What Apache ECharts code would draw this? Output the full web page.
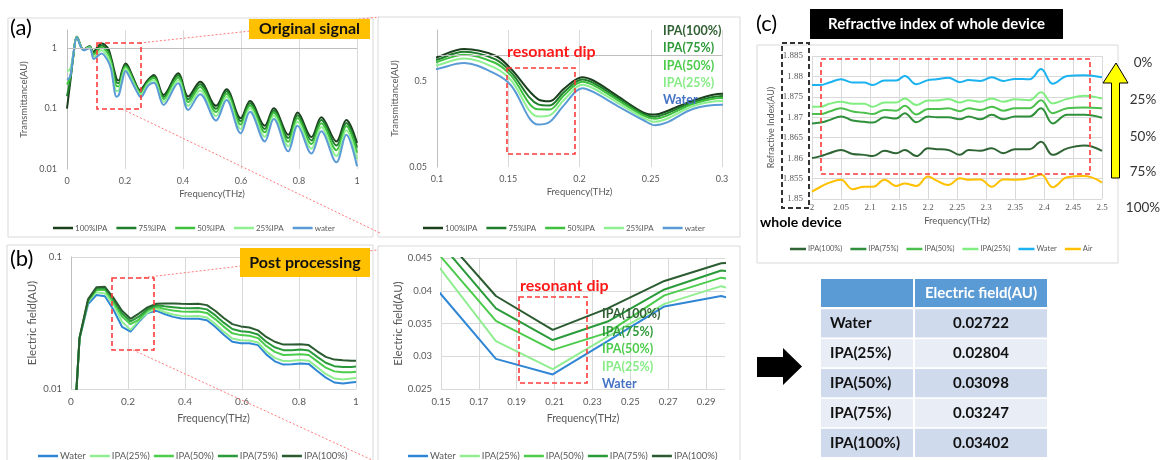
<!DOCTYPE html>
<html>
<head>
<meta charset="utf-8">
<script src="https://cdn.jsdelivr.net/npm/echarts@6/dist/echarts.min.js"></script>
<style>
html, body { margin: 0; padding: 0; background: #fff; }
#main { width: 1165px; height: 460px; }
</style>
</head>
<body>
<div id="main"></div>
<script>
// (a) original signal: transmittance vs frequency (THz)
var freqA = [0, 0.011, 0.022, 0.034, 0.057, 0.078, 0.092, 0.1, 0.119, 0.141, 0.152, 0.171, 0.179, 0.189, 0.202, 0.21, 0.226, 0.245, 0.253, 0.261, 0.28, 0.3, 0.333, 0.383, 0.418, 0.459, 0.514, 0.55, 0.599, 0.631, 0.682, 0.713, 0.763, 0.795, 0.843, 0.877, 0.929, 0.963, 1.0];
var ipa100A = [0.1, 0.27, 0.75, 1.55, 0.95, 1.08, 0.86, 0.96, 1.2, 1.0, 0.70, 0.309, 0.293, 0.41, 0.56, 0.51, 0.344, 0.216, 0.205, 0.224, 0.301, 0.36, 0.168, 0.383, 0.158, 0.279, 0.111, 0.209, 0.069, 0.134, 0.052, 0.101, 0.0369, 0.086, 0.0337, 0.072, 0.0286, 0.065, 0.027];
var ipa75A = [0.16, 0.3, 0.76, 1.54, 0.95, 1.07, 0.815, 0.9, 1.11, 0.907, 0.64, 0.27, 0.262, 0.375, 0.528, 0.479, 0.326, 0.207, 0.194, 0.211, 0.288, 0.339, 0.156, 0.355, 0.143, 0.254, 0.0993, 0.193, 0.0616, 0.123, 0.0461, 0.093, 0.0325, 0.0778, 0.0297, 0.0647, 0.0244, 0.058, 0.0226];
var ipa50A = [0.25, 0.33, 0.78, 1.53, 0.94, 1.05, 0.773, 0.846, 1.03, 0.823, 0.586, 0.236, 0.235, 0.343, 0.498, 0.451, 0.309, 0.199, 0.183, 0.198, 0.275, 0.32, 0.143, 0.327, 0.128, 0.228, 0.0878, 0.176, 0.0543, 0.113, 0.0405, 0.085, 0.0283, 0.0696, 0.0259, 0.0574, 0.0205, 0.0513, 0.0186];
var ipa25A = [0.42, 0.45, 0.82, 1.51, 0.93, 1.03, 0.718, 0.774, 0.926, 0.717, 0.517, 0.195, 0.201, 0.303, 0.459, 0.414, 0.287, 0.188, 0.169, 0.182, 0.258, 0.295, 0.129, 0.294, 0.111, 0.2, 0.0751, 0.157, 0.0462, 0.101, 0.0342, 0.0758, 0.0237, 0.0605, 0.0217, 0.0494, 0.0164, 0.0438, 0.0145];
var waterA = [0.3, 0.34, 0.8, 1.5, 0.92, 1.0, 0.66, 0.70, 0.82, 0.614, 0.449, 0.157, 0.168, 0.263, 0.418, 0.375, 0.263, 0.176, 0.154, 0.165, 0.24, 0.268, 0.115, 0.262, 0.095, 0.173, 0.0635, 0.139, 0.039, 0.089, 0.0286, 0.067, 0.0196, 0.052, 0.018, 0.042, 0.0129, 0.037, 0.0111];

// (b) post processing: electric field vs frequency (THz)
var freqB = [0, 0.03, 0.06, 0.089, 0.119, 0.149, 0.179, 0.209, 0.238, 0.268, 0.298, 0.328, 0.358, 0.387, 0.417, 0.447, 0.477, 0.507, 0.536, 0.566, 0.596, 0.626, 0.656, 0.685, 0.715, 0.745, 0.775, 0.805, 0.834, 0.864, 0.894, 0.924, 0.954, 0.983, 1.0];
var waterB = [0.002, 0.024, 0.044, 0.0515, 0.0504, 0.0398, 0.0296, 0.02722, 0.0323, 0.0376, 0.0392, 0.037, 0.0352, 0.0342, 0.034, 0.0341, 0.0332, 0.0295, 0.0258, 0.0228, 0.0222, 0.0222, 0.0215, 0.0183, 0.0162, 0.0153, 0.0154, 0.0156, 0.0155, 0.0137, 0.0122, 0.0112, 0.011, 0.0112, 0.0113];
var ipa25B = [0.002, 0.0242, 0.046, 0.054, 0.053, 0.0436, 0.0323, 0.02804, 0.033, 0.038, 0.0407, 0.0383, 0.0367, 0.0358, 0.0356, 0.0357, 0.0348, 0.031, 0.0272, 0.0241, 0.0234, 0.0233, 0.0225, 0.0193, 0.0172, 0.0163, 0.0164, 0.0166, 0.0164, 0.0146, 0.013, 0.012, 0.0118, 0.012, 0.0121];
var ipa50B = [0.002, 0.0243, 0.0465, 0.0562, 0.0565, 0.0455, 0.0354, 0.03098, 0.0336, 0.0393, 0.042, 0.0404, 0.0394, 0.0387, 0.0385, 0.0386, 0.0377, 0.0337, 0.0297, 0.0264, 0.0256, 0.0253, 0.0243, 0.0212, 0.0191, 0.0181, 0.0182, 0.0183, 0.0181, 0.0162, 0.0145, 0.0136, 0.0134, 0.0134, 0.0135];
var ipa75B = [0.002, 0.0244, 0.047, 0.0575, 0.058, 0.0475, 0.0373, 0.03247, 0.0353, 0.0402, 0.0431, 0.0423, 0.0417, 0.0411, 0.0409, 0.0411, 0.0401, 0.0361, 0.0318, 0.0285, 0.0274, 0.027, 0.0259, 0.0228, 0.0207, 0.0197, 0.0197, 0.0199, 0.0196, 0.0175, 0.0158, 0.0149, 0.0147, 0.0147, 0.0148];
var ipa100B = [0.002, 0.0245, 0.048, 0.059, 0.0595, 0.049, 0.0392, 0.03402, 0.0373, 0.0415, 0.0442, 0.0445, 0.0445, 0.0442, 0.044, 0.0442, 0.0432, 0.039, 0.0345, 0.031, 0.0298, 0.0292, 0.0278, 0.0248, 0.0228, 0.0217, 0.0217, 0.0218, 0.0215, 0.0193, 0.0175, 0.0167, 0.0165, 0.0164, 0.0164];

// (c) refractive index of whole device, 2 - 2.5 THz
var freqC = [2.0, 2.015, 2.03, 2.05, 2.07, 2.09, 2.105, 2.125, 2.145, 2.16, 2.18, 2.2, 2.215, 2.235, 2.255, 2.27, 2.29, 2.31, 2.33, 2.35, 2.375, 2.395, 2.415, 2.44, 2.47, 2.5];
var ipa100C = [1.86, 1.8605, 1.8612, 1.862, 1.861, 1.8608, 1.8605, 1.8618, 1.8612, 1.862, 1.8605, 1.8624, 1.8622, 1.862, 1.8608, 1.862, 1.8618, 1.8624, 1.8612, 1.8622, 1.8622, 1.864, 1.8608, 1.8624, 1.8631, 1.8618];
var ipa75C = [1.8685, 1.8687, 1.8693, 1.8702, 1.8692, 1.8689, 1.8687, 1.87, 1.8697, 1.871, 1.8688, 1.8702, 1.87, 1.87, 1.8695, 1.8702, 1.8695, 1.8706, 1.8695, 1.8702, 1.8702, 1.8722, 1.8685, 1.8706, 1.8706, 1.8699];
var ipa50C = [1.8708, 1.8708, 1.8714, 1.8722, 1.8714, 1.8711, 1.8708, 1.8718, 1.8716, 1.8728, 1.8707, 1.872, 1.872, 1.8722, 1.8715, 1.8722, 1.8718, 1.8726, 1.8716, 1.8722, 1.8722, 1.8742, 1.871, 1.8722, 1.8724, 1.8722];
var ipa25C = [1.8726, 1.8726, 1.8733, 1.8738, 1.8733, 1.8733, 1.8726, 1.8736, 1.8736, 1.8746, 1.873, 1.8741, 1.8741, 1.8745, 1.8736, 1.8742, 1.8738, 1.8746, 1.8738, 1.8744, 1.8742, 1.8761, 1.8734, 1.8745, 1.8753, 1.8746];
var waterC = [1.8779, 1.8779, 1.8785, 1.8793, 1.8785, 1.8785, 1.8779, 1.879, 1.879, 1.8801, 1.8781, 1.8791, 1.8793, 1.8797, 1.8786, 1.8791, 1.8789, 1.8798, 1.8789, 1.8794, 1.8793, 1.8818, 1.8782, 1.8801, 1.8803, 1.8798];
var airC = [1.8518, 1.853, 1.854, 1.8547, 1.8524, 1.853, 1.853, 1.8547, 1.8532, 1.8538, 1.8532, 1.8555, 1.8545, 1.8534, 1.8551, 1.8547, 1.8548, 1.853, 1.8548, 1.8547, 1.8551, 1.856, 1.8529, 1.8553, 1.8556, 1.854];

// table at the resonant dip
var tableNames = ['Water', 'IPA(25%)', 'IPA(50%)', 'IPA(75%)', 'IPA(100%)'];
var tableValues = ['0.02722', '0.02804', '0.03098', '0.03247', '0.03402'];

var aNames = ['100%IPA', '75%IPA', '50%IPA', '25%IPA', 'water'];
var bNames = ['Water', 'IPA(25%)', 'IPA(50%)', 'IPA(75%)', 'IPA(100%)'];
var cNames = ['IPA(100%)', 'IPA(75%)', 'IPA(50%)', 'IPA(25%)', 'Water', 'Air'];
var sideLabels = ['IPA(100%)', 'IPA(75%)', 'IPA(50%)', 'IPA(25%)', 'Water'];
var percentLabels = ['0%', '25%', '50%', '75%', '100%'];

var F = 'Lato, "Open Sans", sans-serif';
var GRAY = '#595959';
var GRIDC = '#d9d9d9';

var aColors = ['#1c3f1e', '#1f7d2b', '#3fc03f', '#8ef08e', '#5b9bd5'];
var bColors = ['#2f86d4', '#90ee90', '#4ccc4c', '#2a9a3a', '#2b5b30'];
var cColors = ['#2f6534', '#2f8f3a', '#4cc04c', '#82ee82', '#1ab2f0', '#ffc000'];
var labelColors = ['#2f5f32', '#2f9a3a', '#4ccc4c', '#86ec86', '#4472c4'];

function pairs(xs, ys) {
	return xs.map(function (x, i) { return [x, ys[i]]; });
}

function lineSeries(name, color, xs, ys, idx, smooth) {
	return {
		name: name, type: 'line', xAxisIndex: idx, yAxisIndex: idx,
		data: pairs(xs, ys), symbol: 'none', smooth: smooth,
		lineStyle: { color: color, width: 2 }, itemStyle: { color: color }
	};
}

function xAx(idx, min, max, interval, fs, nameGap, margin) {
	return {
		gridIndex: idx, type: 'value', min: min, max: max, interval: interval,
		name: 'Frequency(THz)', nameLocation: 'middle', nameGap: nameGap,
		nameTextStyle: { color: GRAY, fontSize: fs + 0.5, fontFamily: F },
		axisLine: { show: false }, axisTick: { show: false },
		axisLabel: { color: GRAY, fontSize: fs, fontFamily: F, margin: margin },
		splitLine: { show: true, lineStyle: { color: GRIDC, width: 1 } }
	};
}

var series = [];
var aVals = [ipa100A, ipa75A, ipa50A, ipa25A, waterA];
for (var i = 0; i < 5; i++) {
	series.push(lineSeries(aNames[i], aColors[i], freqA, aVals[i], 0, 0.35));
	series.push(lineSeries(aNames[i], aColors[i], freqA, aVals[i], 1, 0.35));
}
var cVals = [ipa100C, ipa75C, ipa50C, ipa25C, waterC, airC];
for (var i = 0; i < 6; i++) {
	series.push(lineSeries('c:' + cNames[i], cColors[i], freqC, cVals[i], 2, 0.4));
}
var bVals = [waterB, ipa25B, ipa50B, ipa75B, ipa100B];
for (var i = 0; i < 5; i++) {
	series.push(lineSeries(bNames[i], bColors[i], freqB, bVals[i], 3, false));
	series.push(lineSeries(bNames[i], bColors[i], freqB, bVals[i], 4, false));
}

// horizontal axis of the log charts crosses at 1
series[8].markLine = {
	silent: true, symbol: ['none', 'none'], label: { show: false },
	lineStyle: { color: '#bfbfbf', type: 'solid', width: 1 },
	data: [{ yAxis: 1 }]
};
series[9].markLine = {
	silent: true, symbol: ['none', 'none'], label: { show: false },
	lineStyle: { color: '#bfbfbf', type: 'solid', width: 1 },
	data: [
		{ yAxis: 1 },
		{ yAxis: 0.5, lineStyle: { color: 'rgba(0,0,0,0)' },
		  label: { show: true, position: 'start', formatter: '0.5', color: GRAY, fontSize: 9, fontFamily: F, distance: 10 } }
	]
};

function isTick(v, list) {
	return list.some(function (t) { return Math.abs(v - t) / t < 1e-6; });
}

function legend(data, left, top, fs, gap, iw, extra) {
	var l = {
		data: data, left: left, top: top, orient: 'horizontal', selectedMode: false,
		icon: 'rect', itemWidth: iw, itemHeight: 2.5, itemGap: gap,
		textStyle: { color: GRAY, fontFamily: F, fontSize: fs, padding: [0, 0, 0, -3] }
	};
	return Object.assign(l, extra || {});
}

var gfx = [];
function rect(x, y, w, h, style, z) {
	gfx.push({ type: 'rect', shape: { x: x, y: y, width: w, height: h }, style: style, z: z || 50, silent: true });
}
function text(t, x, y, font, fill, align, z) {
	gfx.push({ type: 'text', x: x, y: y, z: z || 60, silent: true,
		style: { text: t, font: font, fill: fill, textAlign: align || 'left', textVerticalAlign: 'middle' } });
}
function seg(x1, y1, x2, y2, style, z) {
	gfx.push({ type: 'line', shape: { x1: x1, y1: y1, x2: x2, y2: y2 }, style: style, z: z || 40, silent: true });
}

var frame = { fill: 'rgba(0,0,0,0)', stroke: '#d9d9d9', lineWidth: 1 };
rect(8, 18, 365, 219, frame, 1);
rect(378, 17, 362, 220, frame, 1);
rect(7, 245, 366, 220, frame, 1);
rect(378, 246, 362, 220, frame, 1);
rect(757, 45, 361, 218, frame, 1);

// zoom connectors
var dot = { stroke: '#ff7a7a', lineWidth: 1, lineDash: [2, 2] };
seg(140, 43, 379, 17, dot);
seg(122, 109, 380, 233, dot);
seg(140, 278, 377, 250, dot);
seg(133, 350, 372, 460, dot);

var red = { fill: 'rgba(0,0,0,0)', stroke: '#ff3b3b', lineWidth: 1.6, lineDash: [5, 3] };
rect(97, 43, 44, 66, red, 55);
rect(507, 68, 68, 86, red, 55);
rect(112, 278, 42, 72, red, 55);
rect(519, 297, 68, 86, red, 55);
rect(821, 59, 269, 115, red, 55);
rect(782, 43, 27, 165, { fill: 'rgba(0,0,0,0)', stroke: '#333', lineWidth: 2, lineDash: [5, 3] }, 55);

// panel tags and headings
text('(a)', 10, 28, '22px ' + F, '#000');
text('(b)', 10, 259, '22px ' + F, '#000');
text('(c)', 756, 24, '22px ' + F, '#000');
rect(249, 19, 121, 20, { fill: '#ffc000' }, 58);
text('Original signal', 309.5, 29, 'bold 16px ' + F, '#111', 'center');
rect(240, 248, 130, 29, { fill: '#ffc000' }, 58);
text('Post processing', 305, 262.5, 'bold 16px ' + F, '#111', 'center');
rect(810, 9, 253, 30, { fill: '#000' }, 58);
text('Refractive index of whole device', 936.5, 24, 'bold 15px ' + F, '#fff', 'center');
text('whole device', 760, 222, 'bold 14px ' + F, '#000');

text('resonant dip', 507, 51.5, 'bold 16px ' + F, '#ff1a1a');
text('resonant dip', 520, 286, 'bold 16px ' + F, '#ff1a1a');
var aLabY = [31, 48, 66, 83, 100];
var bLabY = [314, 331.5, 349, 367, 384];
for (var i = 0; i < 5; i++) {
	text(sideLabels[i], 663, aLabY[i], 'bold 12.5px ' + F, labelColors[i]);
	text(sideLabels[i], 602, bLabY[i], 'bold 12.5px ' + F, labelColors[i]);
}

// concentration scale with the yellow arrow
var pY = [63, 100, 137, 172, 208];
for (var i = 0; i < 5; i++) {
	text(percentLabels[i], 1143, pY[i], '13.5px ' + F, '#333', 'center');
}
gfx.push({ type: 'polygon', z: 58, silent: true,
	shape: { points: [[1116, 63], [1128, 83], [1119.5, 83], [1119.5, 178], [1111.5, 178], [1111.5, 83], [1103, 83]] },
	style: { fill: '#ffff00', stroke: '#000', lineWidth: 1 } });

// black arrow and table
gfx.push({ type: 'polygon', z: 58, silent: true,
	shape: { points: [[757, 357], [783, 357], [783, 348], [802, 366.5], [783, 385], [783, 377], [757, 377]] },
	style: { fill: '#000' } });
rect(821, 279, 92, 28, { fill: '#5b9bd5' }, 58);
rect(915, 279, 132, 28, { fill: '#5b9bd5' }, 58);
text('Electric field(AU)', 981, 293, 'bold 15px ' + F, '#fff', 'center');
for (var i = 0; i < tableNames.length; i++) {
	var ry = 309.3 + i * 29.85;
	var fill = i % 2 === 0 ? '#cfdaec' : '#e9eef6';
	rect(821, ry, 92, 28.2, { fill: fill }, 58);
	rect(915, ry, 132, 28.2, { fill: fill }, 58);
	text(tableNames[i], 830, ry + 14.3, 'bold 15px ' + F, '#111');
	text(tableValues[i], 981, ry + 14.3, 'bold 15px ' + F, '#111', 'center');
}

var option = {
	animation: false,
	backgroundColor: '#fff',
	grid: [
		{ left: 67, top: 30, width: 290, height: 139 },
		{ left: 437, top: 30, width: 285, height: 137 },
		{ left: 812, top: 56, width: 290, height: 143 },
		{ left: 71, top: 257, width: 285, height: 132 },
		{ left: 441, top: 258, width: 284, height: 131 }
	],
	xAxis: [
		xAx(0, 0, 1, 0.2, 9, 20, 8),
		xAx(1, 0.1, 0.3, 0.05, 9, 20, 8),
		Object.assign(xAx(2, 2, 2.5, 0.05, 9, 17, 4), {
			axisLabel: { color: GRAY, fontSize: 9, fontFamily: '"Liberation Serif", serif', margin: 4 }
		}),
		xAx(3, 0, 1, 0.2, 10, 24, 8),
		Object.assign(xAx(4, 0.15, 0.3, 0.01, 10, 24, 8), {
			axisLabel: {
				color: GRAY, fontSize: 9.5, fontFamily: F, margin: 8,
				formatter: function (v) { return Math.round(v * 100) % 2 === 1 ? v.toFixed(2) : ''; }
			},
			splitLine: { show: true, lineStyle: { color: [GRIDC, 'rgba(0,0,0,0)'], width: 1 } }
		})
	],
	yAxis: [
		{
			gridIndex: 0, type: 'log', logBase: 10, min: 0.01, max: 2,
			name: 'Transmittance(AU)', nameLocation: 'middle', nameGap: 38,
			nameTextStyle: { color: GRAY, fontSize: 9.5, fontFamily: F },
			axisLine: { show: true, lineStyle: { color: '#bfbfbf' } }, axisTick: { show: false },
			splitLine: { show: false },
			axisLabel: { color: GRAY, fontSize: 9, fontFamily: F, margin: 10,
				formatter: function (v) { return isTick(v, [0.01, 0.1, 1]) ? String(+v.toPrecision(3)) : ''; } }
		},
		{
			gridIndex: 1, type: 'log', logBase: 10, min: 0.05, max: 2,
			name: 'Transmittance(AU)', nameLocation: 'middle', nameGap: 37,
			nameTextStyle: { color: GRAY, fontSize: 9.5, fontFamily: F },
			axisLine: { show: true, lineStyle: { color: '#bfbfbf' } }, axisTick: { show: false },
			splitLine: { show: false },
			axisLabel: { color: GRAY, fontSize: 9, fontFamily: F, margin: 10,
				formatter: function (v) { return isTick(v, [0.05]) ? '0.05' : ''; } }
		},
		{
			gridIndex: 2, type: 'value', min: 1.85, max: 1.885, interval: 0.005,
			name: 'Refractive Index(AU)', nameLocation: 'middle', nameGap: 36,
			nameTextStyle: { color: GRAY, fontSize: 9, fontFamily: F },
			axisLine: { show: false }, axisTick: { show: false },
			splitLine: { show: true, lineStyle: { color: GRIDC } },
			axisLabel: { color: GRAY, fontSize: 9, fontFamily: '"Liberation Serif", serif', margin: 9 }
		},
		{
			gridIndex: 3, type: 'log', logBase: 10, min: 0.01, max: 0.1,
			name: 'Electric field(AU)', nameLocation: 'middle', nameGap: 33,
			nameTextStyle: { color: GRAY, fontSize: 11.5, fontFamily: F },
			axisLine: { show: true, lineStyle: { color: '#bfbfbf' } }, axisTick: { show: false },
			splitLine: { show: true, lineStyle: { color: GRIDC } },
			axisLabel: { color: GRAY, fontSize: 9.5, fontFamily: F, margin: 9 }
		},
		{
			gridIndex: 4, type: 'value', min: 0.025, max: 0.045, interval: 0.005,
			name: 'Electric field(AU)', nameLocation: 'middle', nameGap: 33,
			nameTextStyle: { color: GRAY, fontSize: 11.5, fontFamily: F },
			axisLine: { show: false }, axisTick: { show: false },
			splitLine: { show: true, lineStyle: { color: GRIDC } },
			axisLabel: { color: GRAY, fontSize: 9.5, fontFamily: F, margin: 9 }
		}
	],
	legend: [
		legend(aNames, 48, 219, 8, 9, 20),
		legend(aNames, 418, 219, 8, 9, 20),
		legend(cNames.map(function (n) { return 'c:' + n; }), 785, 240, 7.5, 8, 16, {
			formatter: function (n) { return n.slice(2); }
		}),
		legend(bNames, 33, 446, 9.5, 4, 20),
		legend(bNames, 403, 446, 9.5, 4, 20)
	],
	graphic: { elements: gfx },
	series: series
};

var chart = echarts.init(document.getElementById('main'));
chart.setOption(option);
</script>
</body>
</html>
